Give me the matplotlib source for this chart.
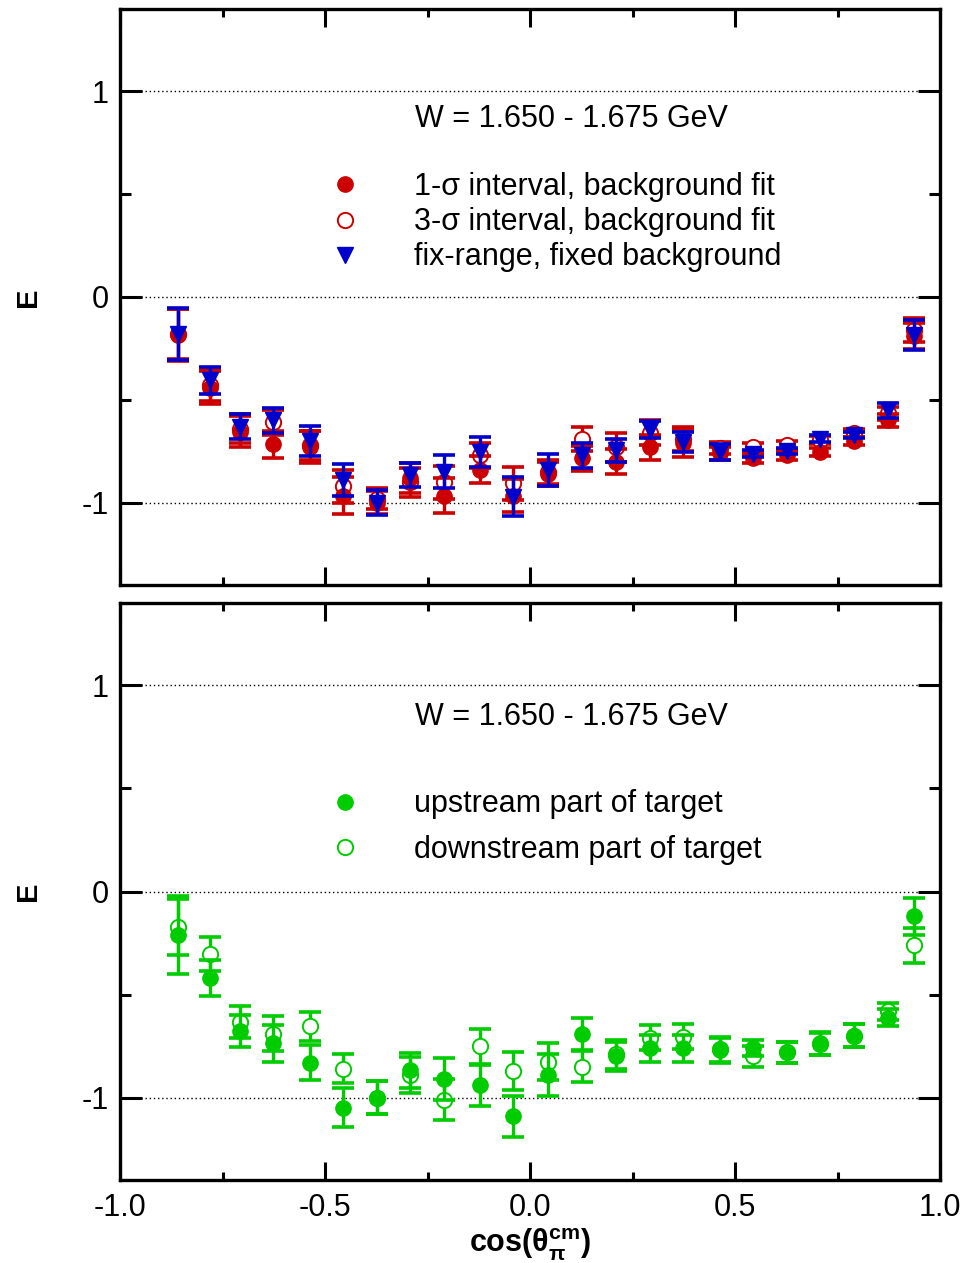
import matplotlib
matplotlib.use("Agg")
import matplotlib.pyplot as plt
from matplotlib.lines import Line2D
from matplotlib.ticker import MultipleLocator
from matplotlib import font_manager

names = {f.name for f in font_manager.fontManager.ttflist}
NARROW = "Liberation Sans Narrow" if "Liberation Sans Narrow" in names else "Liberation Sans"
SANS = "Liberation Sans"
plt.rcParams['font.family'] = [SANS, 'DejaVu Sans']
plt.rcParams['mathtext.fontset'] = 'custom'
plt.rcParams['mathtext.rm'] = NARROW
plt.rcParams['mathtext.bf'] = NARROW + ':bold'
plt.rcParams['mathtext.it'] = NARROW + ':italic'

# ---------------- data ----------------
cos_theta = [-0.859, -0.780, -0.707, -0.627, -0.537, -0.457, -0.372, -0.293, -0.209,
             -0.122, -0.042, 0.045, 0.126, 0.210, 0.293, 0.374, 0.463, 0.543, 0.626,
             0.707, 0.790, 0.872, 0.937]

# top panel
E_1sigma = [-0.185, -0.44, -0.655, -0.715, -0.73, -0.965, -1.0, -0.88, -0.965, -0.84,
            -0.965, -0.86, -0.785, -0.80, -0.73, -0.71, -0.76, -0.785, -0.77, -0.755,
            -0.70, -0.60, -0.19]
err_1sigma = [0.125, 0.08, 0.075, 0.066, 0.077, 0.09, 0.055, 0.073, 0.085, 0.065, 0.08,
              0.06, 0.06, 0.06, 0.06, 0.07, 0.03, 0.02, 0.02, 0.02, 0.02, 0.03, 0.065]
E_3sigma = [-0.18, -0.43, -0.64, -0.61, -0.72, -0.92, -0.98, -0.90, -0.90, -0.77, -0.905,
            -0.85, -0.69, -0.73, -0.66, -0.69, -0.735, -0.728, -0.72, -0.696, -0.66,
            -0.566, -0.16]
err_3sigma = [0.12, 0.075, 0.07, 0.06, 0.07, 0.08, 0.05, 0.07, 0.08, 0.06, 0.08, 0.06,
              0.06, 0.07, 0.06, 0.06, 0.03, 0.02, 0.02, 0.02, 0.02, 0.03, 0.06]
E_fixrange = [-0.18, -0.405, -0.63, -0.60, -0.70, -0.89, -1.0, -0.866, -0.85, -0.753,
              -0.97, -0.842, -0.77, -0.745, -0.645, -0.704, -0.753, -0.761, -0.748,
              -0.688, -0.672, -0.55, -0.185]
err_fixrange = [0.126, 0.067, 0.06, 0.062, 0.075, 0.078, 0.06, 0.06, 0.08, 0.071, 0.095,
                0.078, 0.062, 0.057, 0.042, 0.05, 0.04, 0.015, 0.015, 0.015, 0.015,
                0.036, 0.073]

# bottom panel
E_upstream = [-0.21, -0.42, -0.676, -0.736, -0.83, -1.05, -1.0, -0.867, -0.91, -0.94,
              -1.09, -0.89, -0.69, -0.80, -0.76, -0.76, -0.77, -0.76, -0.78, -0.736,
              -0.70, -0.612, -0.12]
err_upstream = [0.19, 0.088, 0.077, 0.09, 0.085, 0.095, 0.08, 0.085, 0.1, 0.1, 0.1, 0.1,
                0.078, 0.07, 0.065, 0.065, 0.06, 0.04, 0.05, 0.055, 0.055, 0.04, 0.09]
E_downstream = [-0.17, -0.305, -0.635, -0.69, -0.655, -0.86, -1.0, -0.89, -1.01, -0.75,
                -0.87, -0.826, -0.85, -0.79, -0.71, -0.705, -0.765, -0.80, -0.78, -0.74,
                -0.70, -0.582, -0.26]
err_downstream = [0.136, 0.083, 0.077, 0.085, 0.07, 0.07, 0.08, 0.088, 0.1, 0.085, 0.093,
                  0.09, 0.075, 0.07, 0.06, 0.06, 0.06, 0.05, 0.05, 0.055, 0.055, 0.04,
                  0.085]

title_text = "W = 1.650 - 1.675 GeV"
top_labels = ["1-\u03c3 interval, background fit", "3-\u03c3 interval, background fit",
              "fix-range, fixed background"]
bottom_labels = ["upstream part of target", "downstream part of target"]

RED = "#cc0000"
BLUE = "#0000cc"
GREEN = "#00cc00"

W, H = 963, 1263
fig = plt.figure(figsize=(W / 100, H / 100), dpi=100)

def fx(px):
    return px / W

def fy(py):
    return 1 - py / H

ax_top = fig.add_axes([fx(120), fy(585), fx(940) - fx(120), fy(9) - fy(585)])
ax_bot = fig.add_axes([fx(120), fy(1180), fx(940) - fx(120), fy(603) - fy(1180)])

eb_kw = dict(linestyle='none', elinewidth=2.4, capsize=8, capthick=2.6)

def draw(ax, y, err, marker, color, filled, z, ms=11):
    cont = ax.errorbar(cos_theta, y, yerr=err, marker=marker, color=color,
                       markersize=ms, zorder=z, **eb_kw)
    line = cont[0]
    line.set_markerfacecolor(color if filled else 'white')
    line.set_markeredgecolor(color)
    line.set_markeredgewidth(1.0 if filled else 1.4)
    return cont

def style_axes(ax, show_xlabels):
    ax.set_xlim(-1, 1)
    ax.set_ylim(-1.4, 1.4)
    for s in ax.spines.values():
        s.set_linewidth(2.4)
    for yv in (1, 0, -1):
        ax.axhline(yv, color='black', linestyle=(0, (1, 2)), linewidth=1.0, zorder=0)
    ax.xaxis.set_major_locator(MultipleLocator(0.5))
    ax.xaxis.set_minor_locator(MultipleLocator(0.25))
    ax.yaxis.set_major_locator(MultipleLocator(1))
    ax.yaxis.set_minor_locator(MultipleLocator(0.5))
    ax.tick_params(axis='both', which='both', direction='in', top=True, right=True,
                   width=2.2)
    ax.tick_params(axis='x', which='major', length=13)
    ax.tick_params(axis='x', which='minor', length=6)
    ax.tick_params(axis='y', which='major', length=16)
    ax.tick_params(axis='y', which='minor', length=8)
    ax.tick_params(axis='y', which='major', labelsize=22, pad=8)
    ax.tick_params(axis='x', which='major', labelsize=22, pad=9,
                   labelbottom=show_xlabels)
    ax.set_yticks([-1, 0, 1])
    ax.set_yticklabels(["-1", "0", "1"])
    for lab in ax.get_yticklabels():
        lab.set_fontfamily(NARROW)
    if show_xlabels:
        ax.set_xticks([-1, -0.5, 0, 0.5, 1])
        ax.set_xticklabels(["-1.0", "-0.5", "0.0", "0.5", "1.0"])
        for lab in ax.get_xticklabels():
            lab.set_fontfamily(NARROW)

# ---------- top panel ----------
draw(ax_top, E_3sigma, err_3sigma, 'o', RED, False, 3)
draw(ax_top, E_1sigma, err_1sigma, 'o', RED, True, 4)
draw(ax_top, E_fixrange, err_fixrange, 'v', BLUE, True, 5, ms=12)
style_axes(ax_top, False)

handles_top = [
    Line2D([], [], linestyle='none', marker='o', color=RED, markersize=11),
    Line2D([], [], linestyle='none', marker='o', mfc='white', mec=RED, mew=1.4,
           markersize=11),
    Line2D([], [], linestyle='none', marker='v', color=BLUE, markersize=12),
]
ax_top.text(0.36, 0.809, title_text, transform=ax_top.transAxes, fontsize=22,
            va='center', ha='left')
ax_top.legend(handles_top, top_labels, loc='upper left', bbox_to_anchor=(0.2555, 0.717),
              frameon=False, fontsize=22, handlelength=1.0, handletextpad=1.78,
              borderpad=0, borderaxespad=0, labelspacing=0.17, numpoints=1)

# ---------- bottom panel ----------
draw(ax_bot, E_downstream, err_downstream, 'o', GREEN, False, 3)
draw(ax_bot, E_upstream, err_upstream, 'o', GREEN, True, 4)
style_axes(ax_bot, True)

handles_bot = [
    Line2D([], [], linestyle='none', marker='o', color=GREEN, markersize=11),
    Line2D([], [], linestyle='none', marker='o', mfc='white', mec=GREEN, mew=1.4,
           markersize=11),
]
ax_bot.text(0.36, 0.802, title_text, transform=ax_bot.transAxes, fontsize=22,
            va='center', ha='left')
ax_bot.legend(handles_bot, bottom_labels, loc='upper left', bbox_to_anchor=(0.2555, 0.677),
              frameon=False, fontsize=22, handlelength=1.0, handletextpad=1.78,
              borderpad=0, borderaxespad=0, labelspacing=0.5, numpoints=1)

# axis labels
for ax in (ax_top, ax_bot):
    pos = ax.get_position()
    fig.text(fx(28), (pos.y0 + pos.y1) / 2, "E", rotation=90, fontsize=21,
             fontweight='bold', fontfamily=NARROW, ha='center', va='center')
fig.text(fx(530), fy(1245), r"$\mathbf{cos(\theta_{\pi}^{cm})}$", fontsize=22,
         ha='center', va='center')

fig.savefig("out.png", dpi=100)
